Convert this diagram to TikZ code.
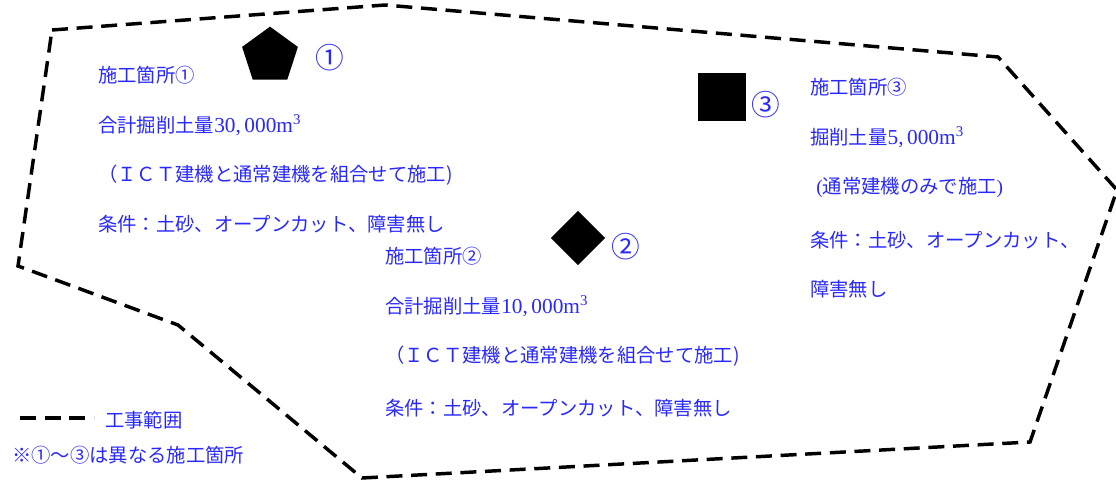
\documentclass[tikz,border=0pt]{standalone}
\usepackage{fontspec}
\setmainfont{Liberation Serif}
\newfontfamily\jp{Noto Sans CJK JP}
\usetikzlibrary{shapes.geometric}
\definecolor{myblue}{RGB}{40,40,255}
\newcommand{\latn}[1]{{\rmfamily\fontsize{16}{18}\selectfont #1}}
\begin{document}
\begin{tikzpicture}[x=0.75pt,y=-0.75pt,
  lbl/.style={anchor=west, inner sep=0pt, text=myblue, font=\jp\fontsize{14.5}{16}\selectfont},
  num/.style={inner sep=0pt, text=myblue, font=\jp\fontsize{21.5}{24}\selectfont},
  boundary/.style={line width=2.6pt, dash pattern=on 12pt off 6.5pt, line join=miter},
  solidshape/.style={fill=black, draw=none, inner sep=0pt}]
\useasboundingbox (0,0) rectangle (1116,481);
% construction area boundary
\draw[boundary] (52,30) -- (385,5) -- (998,57) -- (1117,190) -- (1030,442)
  -- (362,478) -- (178,325) -- (18,266) -- cycle;
% site markers
\node[solidshape, regular polygon, regular polygon sides=5, minimum size=44pt] (p1) at (270,56) {};
\node[num] (n1) at (330,58) {①};
\node[solidshape, diamond, minimum width=41pt, minimum height=41pt] (p2) at (578,238) {};
\node[num] (n2) at (626,247) {②};
\node[solidshape, rectangle, minimum width=36pt, minimum height=36pt] (p3) at (722,97) {};
\node[num] (n3) at (766,105) {③};
% site 1 text
\node[lbl] (a1) at (98,75) {施工箇所①};
\node[lbl] (a2) at (98,125) {合計掘削土量\latn{30,\,000m\textsuperscript{3}}};
\node[lbl] (a3) at (98,175) {（ＩＣＴ建機と通常建機を組合せて施工)};
\node[lbl] (a4) at (98,224) {条件：土砂、オープンカット、障害無し};
% site 2 text
\node[lbl] (b1) at (385,256) {施工箇所②};
\node[lbl] (b2) at (385,306) {合計掘削土量\latn{10,\,000m\textsuperscript{3}}};
\node[lbl] (b3) at (385,356) {（ＩＣＴ建機と通常建機を組合せて施工)};
\node[lbl] (b4) at (385,408) {条件：土砂、オープンカット、障害無し};
% site 3 text
\node[lbl] (c1) at (810,87) {施工箇所③};
\node[lbl] (c2) at (810,137) {掘削土量\latn{5,\,000m\textsuperscript{3}}};
\node[lbl] (c3) at (816,187) {{\rmfamily(}通常建機のみで施工{\rmfamily)}};
\node[lbl] (c4) at (810,240) {条件：土砂、オープンカット、};
\node[lbl] (c5) at (810,289) {障害無し};
% legend
\coordinate (l1) at (20,418);
\coordinate (l2) at (94,418);
\draw[boundary] (l1) -- (l2);
\node[lbl] (leg) at (105,420) {工事範囲};
\node[lbl] (note) at (12,455) {※①～③は異なる施工箇所};
\end{tikzpicture}
\end{document}
